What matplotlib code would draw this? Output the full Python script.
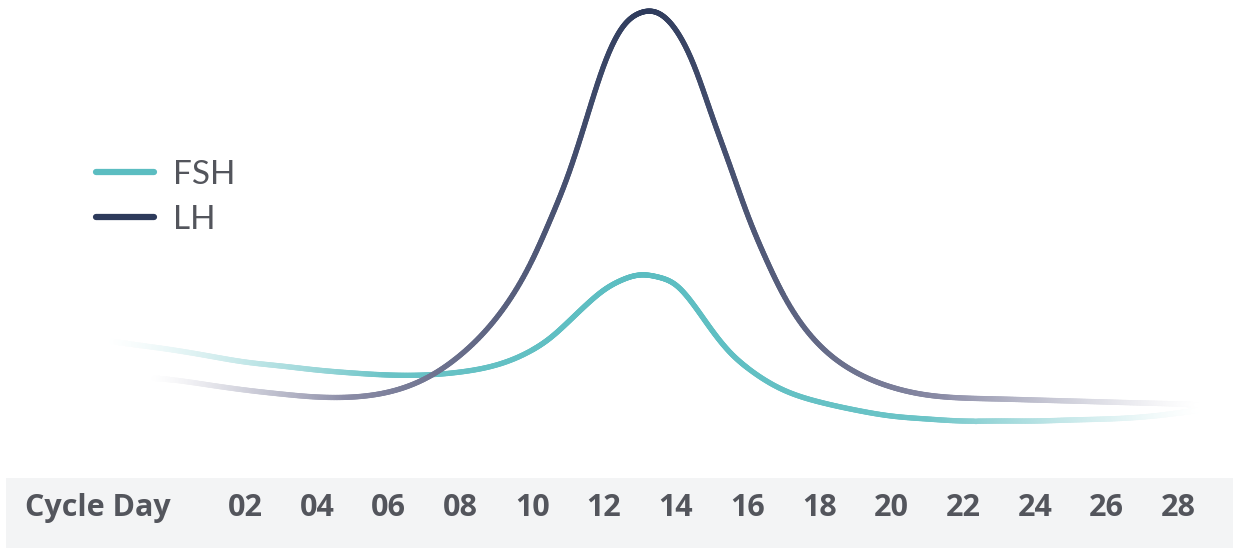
import numpy as np
import matplotlib
matplotlib.use("Agg")
import matplotlib.pyplot as plt
from matplotlib.collections import LineCollection
from matplotlib.lines import Line2D
from matplotlib.patches import Rectangle
from matplotlib.colors import to_rgb

# Hormone levels (arbitrary units) over the menstrual cycle
fsh_days = [-1.8, -1, 0, 1, 2, 3, 4, 5, 6, 7, 8, 9, 10, 10.5, 11, 11.5, 12, 12.5,
            13, 13.5, 14, 14.5, 15, 15.5, 16, 17, 18, 19, 20, 21, 22, 23, 24, 25,
            26, 27, 28, 28.6]
fsh_level = [10.9, 10.5, 10.0, 9.4, 8.8, 8.4, 8.0, 7.7, 7.5, 7.5, 7.8, 8.5, 10.0,
             11.2, 12.8, 14.5, 16.0, 17.0, 17.5, 17.3, 16.5, 14.5, 12.0, 9.8, 8.2,
             6.0, 4.8, 4.0, 3.4, 3.1, 2.9, 2.9, 2.9, 3.0, 3.1, 3.3, 3.7, 4.0]

lh_days = [-0.6, 0, 1, 2, 3, 4, 5, 6, 7, 8, 9, 10, 10.5, 11, 11.5, 12, 12.5, 13,
           13.5, 14, 14.5, 15, 15.5, 16, 16.5, 17, 18, 19, 20, 21, 22, 23, 24, 25,
           26, 27, 28, 28.6]
lh_level = [7.2, 7.0, 6.5, 6.0, 5.6, 5.3, 5.3, 5.8, 7.1, 9.5, 13.2, 19.0, 23.0,
            27.5, 33.0, 38.5, 42.2, 43.7, 43.7, 42.0, 38.5, 33.5, 28.5, 23.5, 19.2,
            15.5, 10.5, 7.8, 6.3, 5.5, 5.2, 5.1, 5.0, 4.9, 4.8, 4.7, 4.6, 4.5]

tick_days = list(range(2, 29, 2))
tick_labels = [f"{d:02d}" for d in tick_days]
series_names = ["FSH", "LH"]

FSH_COLOR = "#5bbdc1"
LH_CORE = "#2d3a5b"
LH_EDGE = "#8d8ea8"
TEXT_COLOR = "#53555c"
BAND_COLOR = "#f3f4f5"

W, H = 1233, 548


def natural_spline(x, y, n_per=24):
    """Smooth curve through the points (natural cubic spline)."""
    x = np.asarray(x, float)
    y = np.asarray(y, float)
    n = len(x)
    h = np.diff(x)
    A = np.zeros((n, n))
    b = np.zeros(n)
    A[0, 0] = A[-1, -1] = 1
    for i in range(1, n - 1):
        A[i, i - 1] = h[i - 1]
        A[i, i] = 2 * (h[i - 1] + h[i])
        A[i, i + 1] = h[i]
        b[i] = 3 * ((y[i + 1] - y[i]) / h[i] - (y[i] - y[i - 1]) / h[i - 1])
    c = np.linalg.solve(A, b)
    xs, ys = [], []
    for i in range(n - 1):
        t = np.linspace(0, h[i], n_per, endpoint=False)
        bi = (y[i + 1] - y[i]) / h[i] - h[i] * (2 * c[i] + c[i + 1]) / 3
        di = (c[i + 1] - c[i]) / (3 * h[i])
        xs.append(x[i] + t)
        ys.append(y[i] + bi * t + c[i] * t ** 2 + di * t ** 3)
    xs.append([x[-1]])
    ys.append([y[-1]])
    return np.concatenate(xs), np.concatenate(ys)


def ramp(v, a, b):
    return np.clip((v - a) / (b - a), 0, 1)


def gradient_line(ax, days, level, core, edge, peak, spread, fade_l, fade_r, lw, z):
    xs, ys = natural_spline(days, level)
    pts = np.column_stack([xs, ys]).reshape(-1, 1, 2)
    segs = np.concatenate([pts[:-1], pts[1:]], axis=1)
    xm = 0.5 * (xs[:-1] + xs[1:])
    core_rgb = np.array(to_rgb(core))
    edge_rgb = np.array(to_rgb(edge))
    w = np.clip(np.abs(xm - peak) / spread, 0, 1)[:, None]
    rgb = core_rgb * (1 - w) + edge_rgb * w
    fade = (ramp(xm, *fade_l) * (1 - ramp(xm, *fade_r)))[:, None]
    fade = fade ** 1.3
    rgb = 1 - (1 - rgb) * fade
    lc = LineCollection(segs, colors=rgb, linewidths=lw, capstyle="round",
                        joinstyle="round", zorder=z)
    ax.add_collection(lc)


fig = plt.figure(figsize=(W / 100, H / 100), dpi=100)
fig.patch.set_facecolor("white")

band_h = 70 / H
fig.patches.append(Rectangle((6 / W, 0), 1, band_h, transform=fig.transFigure,
                             facecolor=BAND_COLOR, edgecolor="none", zorder=-5))

ax = fig.add_axes([0, band_h, 1, 1 - band_h])
ax.patch.set_alpha(0)
ax.set_xlim(-4.825, 29.52)
ax.set_ylim(-2.8, 45)
for s in ax.spines.values():
    s.set_visible(False)
ax.set_yticks([])

gradient_line(ax, fsh_days, fsh_level, FSH_COLOR, "#6cc4c7", 13.1, 8,
              (-1.8, 6.0), (21.0, 28.6), 3.8, 3)
gradient_line(ax, lh_days, lh_level, LH_CORE, LH_EDGE, 13.2, 8.5,
              (-0.6, 4.8), (21.5, 28.6), 3.8, 4)

label_font = dict(family=["Open Sans", "DejaVu Sans"], weight="bold", size=22)
ax.set_xticks(tick_days)
ax.set_xticklabels(tick_labels, color=TEXT_COLOR, fontdict=label_font)
pad_pt = 11
ax.tick_params(axis="x", length=0, pad=pad_pt)
fig.text(25 / W, (70 - pad_pt * 100 / 72) / H, "Cycle Day", ha="left", va="top",
         color=TEXT_COLOR, **label_font)

handles = [Line2D([], [], color=FSH_COLOR, lw=4.5, solid_capstyle="round"),
           Line2D([], [], color=LH_CORE, lw=4.5, solid_capstyle="round")]
leg = ax.legend(handles, series_names, loc="upper left",
                bbox_to_anchor=(96 / W, (H - 160) / H), bbox_transform=fig.transFigure,
                frameon=False, handlelength=1.75, handletextpad=0.55,
                labelspacing=0.45, borderpad=0, borderaxespad=0,
                prop=dict(family=["Lato", "DejaVu Sans"], size=24))
for t in leg.get_texts():
    t.set_color(TEXT_COLOR)

fig.savefig("out.png", dpi=100, facecolor="white")
